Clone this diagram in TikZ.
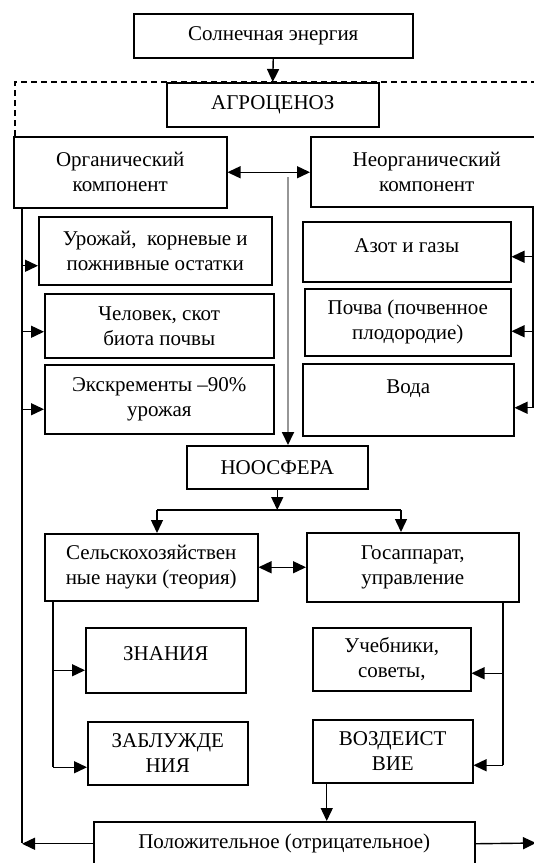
\documentclass[tikz,border=0pt]{standalone}
\usepackage{fontspec}
\setmainfont{Liberation Serif}
\usetikzlibrary{arrows.meta}
\definecolor{greyline}{RGB}{150,150,150}
\begin{document}
\begin{tikzpicture}[x=1pt,y=-1pt,
  box/.style={draw, line width=1.5pt, fill=white, inner sep=0pt, anchor=north west,
    align=center, font=\fontsize{21}{25}\selectfont},
  ln/.style={line width=1.4pt},
  arr/.style={line width=1.4pt, -{Triangle[length=13pt,width=12pt]}},
  dbl/.style={line width=1.4pt, {Triangle[length=13pt,width=12pt]}-{Triangle[length=13pt,width=12pt]}},
  dashline/.style={line width=1.4pt, dash pattern=on 6pt off 4pt}]
\clip (0,0) rectangle (534,863);
\useasboundingbox (0,0) rectangle (534,863);

% dashed frame
\coordinate (d1) at (15,136);
\coordinate (d2) at (15,82);
\coordinate (d3) at (545,82);
\draw[dashline] (d1) -- (d2) -- (d3);

% boxes
\node[box, minimum width=279pt, minimum height=44pt] (sun) at (133,13) {Солнечная энергия};
\node[box, minimum width=212pt, minimum height=44pt] (agro) at (166,82) {АГРОЦЕНОЗ};
\node[box, minimum width=213pt, minimum height=71pt] (org) at (13,136) {Органический\\компонент};
\node[box, minimum width=232pt, minimum height=70pt] (neorg) at (310,136) {Неорганический\\компонент};
\node[box, minimum width=233pt, minimum height=68pt] (urozh) at (38,216) {Урожай,\ \ корневые и\\пожнивные остатки};
\node[box, minimum width=229pt, minimum height=64pt] (chel) at (44,293) {Человек, скот\\биота почвы};
\node[box, minimum width=229pt, minimum height=69pt] (exkr) at (44,364) {Экскременты –90\%\\урожая};
\node[box, minimum width=208pt, minimum height=60pt] (azot) at (302,221) {\raisebox{6pt}[\height][\depth]{Азот и газы}};
\node[box, minimum width=206pt, minimum height=67pt] (pochva) at (304,288) {Почва (почвенное\\плодородие)};
\node[box, minimum width=211pt, minimum height=72pt] (voda) at (302,363) {\raisebox{11pt}[\height][\depth]{Вода}};
\node[box, minimum width=181pt, minimum height=43pt] (noos) at (186,445) {НООСФЕРА};
\node[box, minimum width=213pt, minimum height=67pt] (selsk) at (44,533) {Сельскохозяйствен\\ные науки (теория)};
\node[box, minimum width=212pt, minimum height=69pt] (gos) at (306,532) {Госаппарат,\\управление};
\node[box, minimum width=160pt, minimum height=65pt] (znan) at (85,627) {\raisebox{7pt}[\height][\depth]{ЗНАНИЯ}};
\node[box, minimum width=160pt, minimum height=63pt] (zabl) at (87,721) {ЗАБЛУЖДЕ\\НИЯ};
\node[box, minimum width=158pt, minimum height=63pt] (ucheb) at (312,627) {Учебники,\\советы,};
\node[box, minimum width=160pt, minimum height=63pt] (vozd) at (312,719) {ВОЗДЕИСТ\\ВИЕ};
\node[box, minimum width=381pt, minimum height=44pt] (polozh) at (93,821) {Положительное (отрицательное)};

% top connectors
\draw[arr] (sun.south) -- (agro.north);
\draw[dbl] (org.east) -- (org.east -| neorg.west);
\coordinate (gtop) at (288,177);
\draw[line width=1.8pt, greyline, -{Triangle[length=13pt,width=12pt,black]}] (gtop) -- (gtop |- noos.north);

% left long line
\coordinate (lt) at (22,207);
\coordinate (lb) at (22,843);
\draw[ln] (lt) -- (lb);
\coordinate (a1) at ([yshift=-15pt]urozh.west);
\coordinate (a2) at ([yshift=-6pt]chel.west);
\coordinate (a3) at ([yshift=-10pt]exkr.west);
\draw[arr] (a1 -| lt) -- (a1);
\draw[arr] (a2 -| lt) -- (a2);
\draw[arr] (a3 -| lt) -- (a3);

% right long line
\coordinate (rt) at (533,206);
\coordinate (rb) at (533,408);
\draw[ln] (rt) -- (rb);
\coordinate (b1) at ([yshift=-5pt]azot.east);
\coordinate (b2) at ([yshift=-9pt]pochva.east);
\coordinate (b3) at ([yshift=-8pt]voda.east);
\draw[arr] (b1 -| rt) -- (b1);
\draw[arr] (b2 -| rt) -- (b2);
\draw[arr] (b3 -| rt) -- (b3);

% noosphere branches
\coordinate (brL) at (157,510);
\coordinate (brR) at (401,510);
\draw[arr] (noos.south) -- (noos.south |- brL);
\draw[ln] (brL) -- (brR);
\draw[arr] (brL) -- (brL |- selsk.north);
\draw[arr] (brR) -- (brR |- gos.north);
\draw[dbl] (selsk.east) -- (selsk.east -| gos.west);

% left branch
\coordinate (sl) at (53,600);
\coordinate (c1) at ([yshift=-10pt]znan.west);
\coordinate (c2) at ([yshift=-14pt]zabl.west);
\draw[ln] (sl) -- (sl |- c2);
\draw[arr] (c1 -| sl) -- (c1);
\draw[arr] (c2 -| sl) -- (c2);

% right branch
\coordinate (sr) at (503,601);
\coordinate (e1) at ([yshift=-14pt]ucheb.east);
\coordinate (e2) at ([yshift=-14pt]vozd.east);
\draw[ln] (sr) -- (sr |- e2);
\draw[arr] (e1 -| sr) -- (e1);
\draw[arr] (e2 -| sr) -- (e2);

% to bottom box
\coordinate (v1) at ([xshift=-66pt]vozd.south);
\draw[arr] (v1) -- (v1 |- polozh.north);
\coordinate (rend) at (536,843);
\draw[arr] (polozh.west) -- (polozh.west -| lb);
\draw[arr] (polozh.east) -- (rend);
\end{tikzpicture}
\end{document}
